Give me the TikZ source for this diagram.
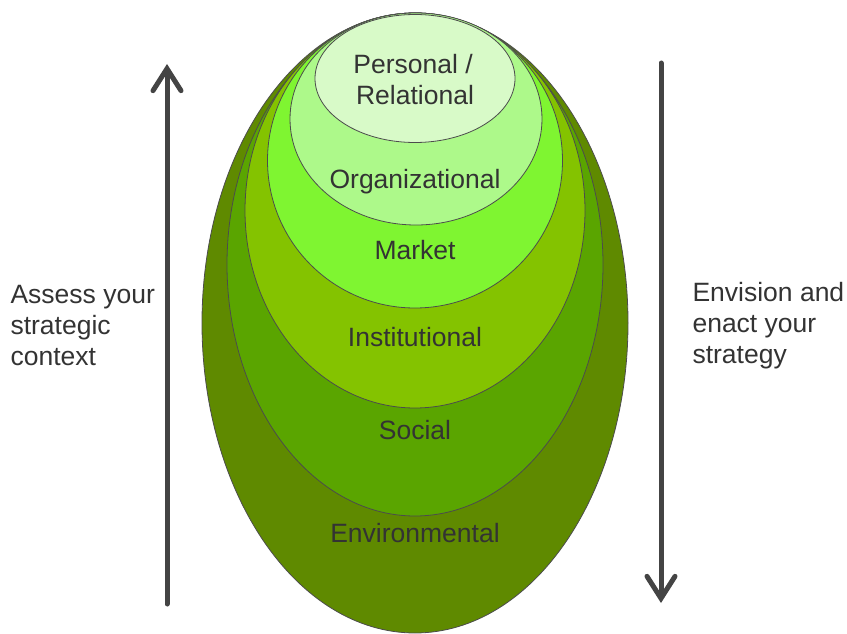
\documentclass[tikz,border=0pt]{standalone}
\usepackage{fontspec}
\setmainfont{Liberation Sans}
\usepackage{xcolor}
\usetikzlibrary{arrows.meta}

\definecolor{envgreen}{HTML}{5F8A00}
\definecolor{socgreen}{HTML}{5AA500}
\definecolor{insgreen}{HTML}{84C300}
\definecolor{mktgreen}{HTML}{7FF531}
\definecolor{orggreen}{HTML}{ADF98A}
\definecolor{pergreen}{HTML}{D8FAC8}
\definecolor{txtgray}{HTML}{333333}
\definecolor{arrgray}{HTML}{444444}

\tikzset{
  layer/.style={draw=black!70, line width=0.8pt},
  label/.style={text=txtgray, font=\fontsize{26.5}{31}\selectfont},
  side/.style={text=txtgray, font=\fontsize{26.5}{31}\selectfont, align=left, anchor=west},
  bigarrow/.style={arrgray, line width=5pt, line cap=round,
    -{Straight Barb[length=22pt, width=28pt, line cap=round]}}
}

\begin{document}
\begin{tikzpicture}[x=1pt, y=-1pt]
        \useasboundingbox (0,0) rectangle (847,634);

        % nested contexts, outside in
        \draw [layer, fill=envgreen] (415,323) ellipse (213 and 310);
        \draw [layer, fill=socgreen] (415,264.5) ellipse (188 and 251.5);
        \draw [layer, fill=insgreen] (415,210.5) ellipse (170 and 197.5);
        \draw [layer, fill=mktgreen] (415,160.5) ellipse (147.5 and 147.5);
        \draw [layer, fill=orggreen] (416,119) ellipse (126 and 106);
        \draw [layer, fill=pergreen] (415,78.5) ellipse (100 and 64);

        \node [label] (per) at (413,64) {Personal /};
        \node [label] (rel) at (415,95) {Relational};
        \node [label] (org) at (415,182) {Organizational};
        \node [label] (mkt) at (415,250) {Market};
        \node [label] (ins) at (415,337) {Institutional};
        \node [label] (soc) at (415,430) {Social};
        \node [label] (env) at (415,533) {Environmental};

        % the two arrows
        \coordinate (upfoot) at (167,604);
        \coordinate (uphead) at (167,64);
        \coordinate (dnfoot) at (661,63);
        \coordinate (dnhead) at (661,603);
        \draw [bigarrow] (upfoot) -- (uphead);
        \draw [bigarrow] (dnfoot) -- (dnhead);

        \node [side] (assess) at (7,326) {Assess your\\strategic\\context};
        \node [side] (envision) at (689,326) {Envision and\\enact your\\strategy};
    \end{tikzpicture}
\end{document}
